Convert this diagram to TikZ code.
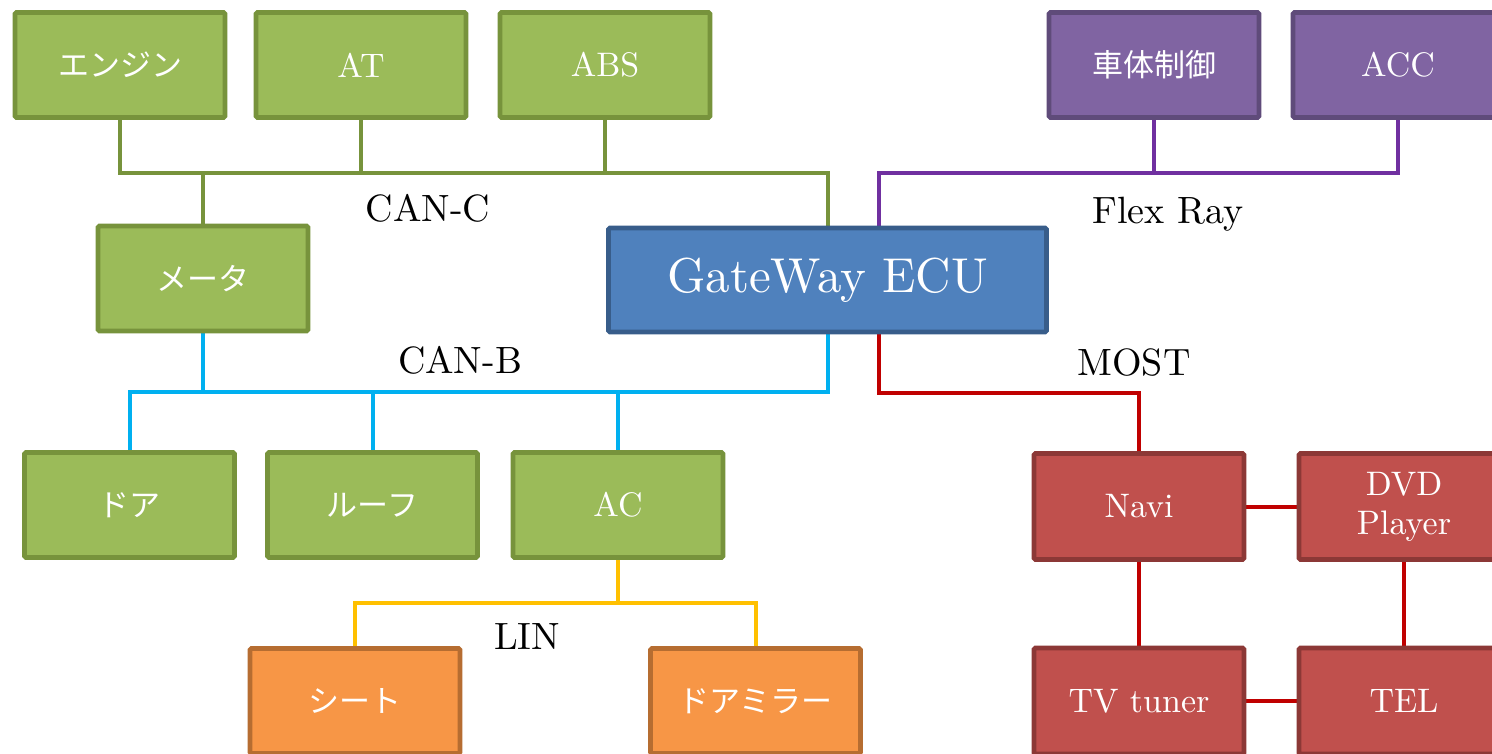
\documentclass[tikz,border=0pt]{standalone}
\usepackage{fontspec}
\setmainfont{lmroman10-regular.otf}
\newfontfamily\jp{Noto Sans CJK JP}
\usetikzlibrary{calc,backgrounds}

\definecolor{gfill}{HTML}{9BBB59}
\definecolor{gline}{HTML}{77933C}
\definecolor{pfill}{HTML}{8064A2}
\definecolor{pline}{HTML}{5F4B7A}
\definecolor{bfill}{HTML}{4F81BD}
\definecolor{bline}{HTML}{385D8A}
\definecolor{rfill}{HTML}{C0504D}
\definecolor{rline}{HTML}{8C3836}
\definecolor{ofill}{HTML}{F79646}
\definecolor{oline}{HTML}{B66D31}
\definecolor{busc}{HTML}{77933C}
\definecolor{busb}{HTML}{00B0F0}
\definecolor{busf}{HTML}{7030A0}
\definecolor{busm}{HTML}{C00000}
\definecolor{busl}{HTML}{FFC000}

\tikzset{
  ecu/.style={draw, line width=4.8pt, rounded corners=1.5pt,
    minimum width=210pt, minimum height=105pt, inner sep=0pt,
    text=white, font=\fontsize{34}{39}\selectfont, align=center},
  green/.style={ecu, fill=gfill, draw=gline},
  purple/.style={ecu, fill=pfill, draw=pline},
  red/.style={ecu, fill=rfill, draw=rline, minimum height=106pt},
  orange/.style={ecu, fill=ofill, draw=oline},
  gateway/.style={ecu, fill=bfill, draw=bline, minimum width=438pt,
    minimum height=104pt, font=\fontsize{49}{56}\selectfont},
  jptext/.style={font=\jp\fontsize{31}{36}\selectfont},
  bus/.style={line width=4pt},
  buslabel/.style={font=\fontsize{38}{44}\selectfont, inner sep=0pt}
}

\begin{document}
\begin{tikzpicture}[x=1pt, y=-1pt]
\useasboundingbox (0,0) rectangle (1492,754);
\clip (0,0) rectangle (1492,754);

% CAN-C nodes
\node[green, jptext] (eng) at (120,65) {エンジン};
\node[green] (at) at (361,65) {AT};
\node[green] (abs) at (605,65) {ABS};
\node[green, jptext] (meter) at (203,278.5) {メータ};

% FlexRay nodes
\node[purple, jptext] (body) at (1154,65) {車体制御};
\node[purple] (acc) at (1398,65) {ACC};

% gateway
\node[gateway] (gw) at (827.5,280) {GateWay ECU};

% CAN-B nodes
\node[green, jptext] (door) at (129.5,505) {ドア};
\node[green, jptext] (roof) at (372.5,505) {ルーフ};
\node[green] (ac) at (618,505) {AC};

% LIN nodes
\node[orange, jptext] (seat) at (355,701) {シート};
\node[orange, jptext] (mirror) at (755.5,701) {ドアミラー};

% MOST nodes
\node[red] (navi) at (1139,506.5) {Navi};
\node[red] (dvd) at (1404,506.5) {DVD\\Player};
\node[red] (tv) at (1139,701) {TV tuner};
\node[red] (tel) at (1404,701) {TEL};

% bus lines
\coordinate (canc) at (0,173);
\coordinate (frb) at (0,173);
\coordinate (canb) at (0,392);
\coordinate (most) at (0,393);
\coordinate (lin) at (0,603);
\coordinate (gwf) at ($(gw.north)+(51.5,0)$);
\coordinate (gwm) at ($(gw.south)+(51.5,0)$);

\begin{scope}[on background layer]
  % CAN-C
  \draw[bus, busc] (eng.south) -- (eng.south |- canc) -| (gw.north);
  \draw[bus, busc] (at.south) -- (at.south |- canc);
  \draw[bus, busc] (abs.south) -- (abs.south |- canc);
  \draw[bus, busc] (meter.north) -- (meter.north |- canc);
  % FlexRay
  \draw[bus, busf] (gwf) -- (gwf |- frb) -| (acc.south);
  \draw[bus, busf] (body.south) -- (body.south |- frb);
  % CAN-B
  \draw[bus, busb] (door.north) -- (door.north |- canb) -| (gw.south);
  \draw[bus, busb] (meter.south) -- (meter.south |- canb);
  \draw[bus, busb] (roof.north) -- (roof.north |- canb);
  \draw[bus, busb] (ac.north) -- (ac.north |- canb);
  % MOST
  \draw[bus, busm] (gwm) -- (gwm |- most) -| (navi.north);
  \draw[bus, busm] (navi) -- (dvd);
  \draw[bus, busm] (navi) -- (tv);
  \draw[bus, busm] (dvd) -- (tel);
  \draw[bus, busm] (tv) -- (tel);
  % LIN
  \draw[bus, busl] (seat.north) -- (seat.north |- lin) -| (mirror.north);
  \draw[bus, busl] (ac.south) -- (ac.south |- lin);
\end{scope}

% bus names
\node[buslabel] (lcanc) at (428,208) {CAN-C};
\node[buslabel] (lfr) at (1168,214) {Flex Ray};
\node[buslabel] (lcanb) at (460,360) {CAN-B};
\node[buslabel] (lmost) at (1134,363) {MOST};
\node[buslabel] (llin) at (527,637) {LIN};
\end{tikzpicture}
\end{document}
